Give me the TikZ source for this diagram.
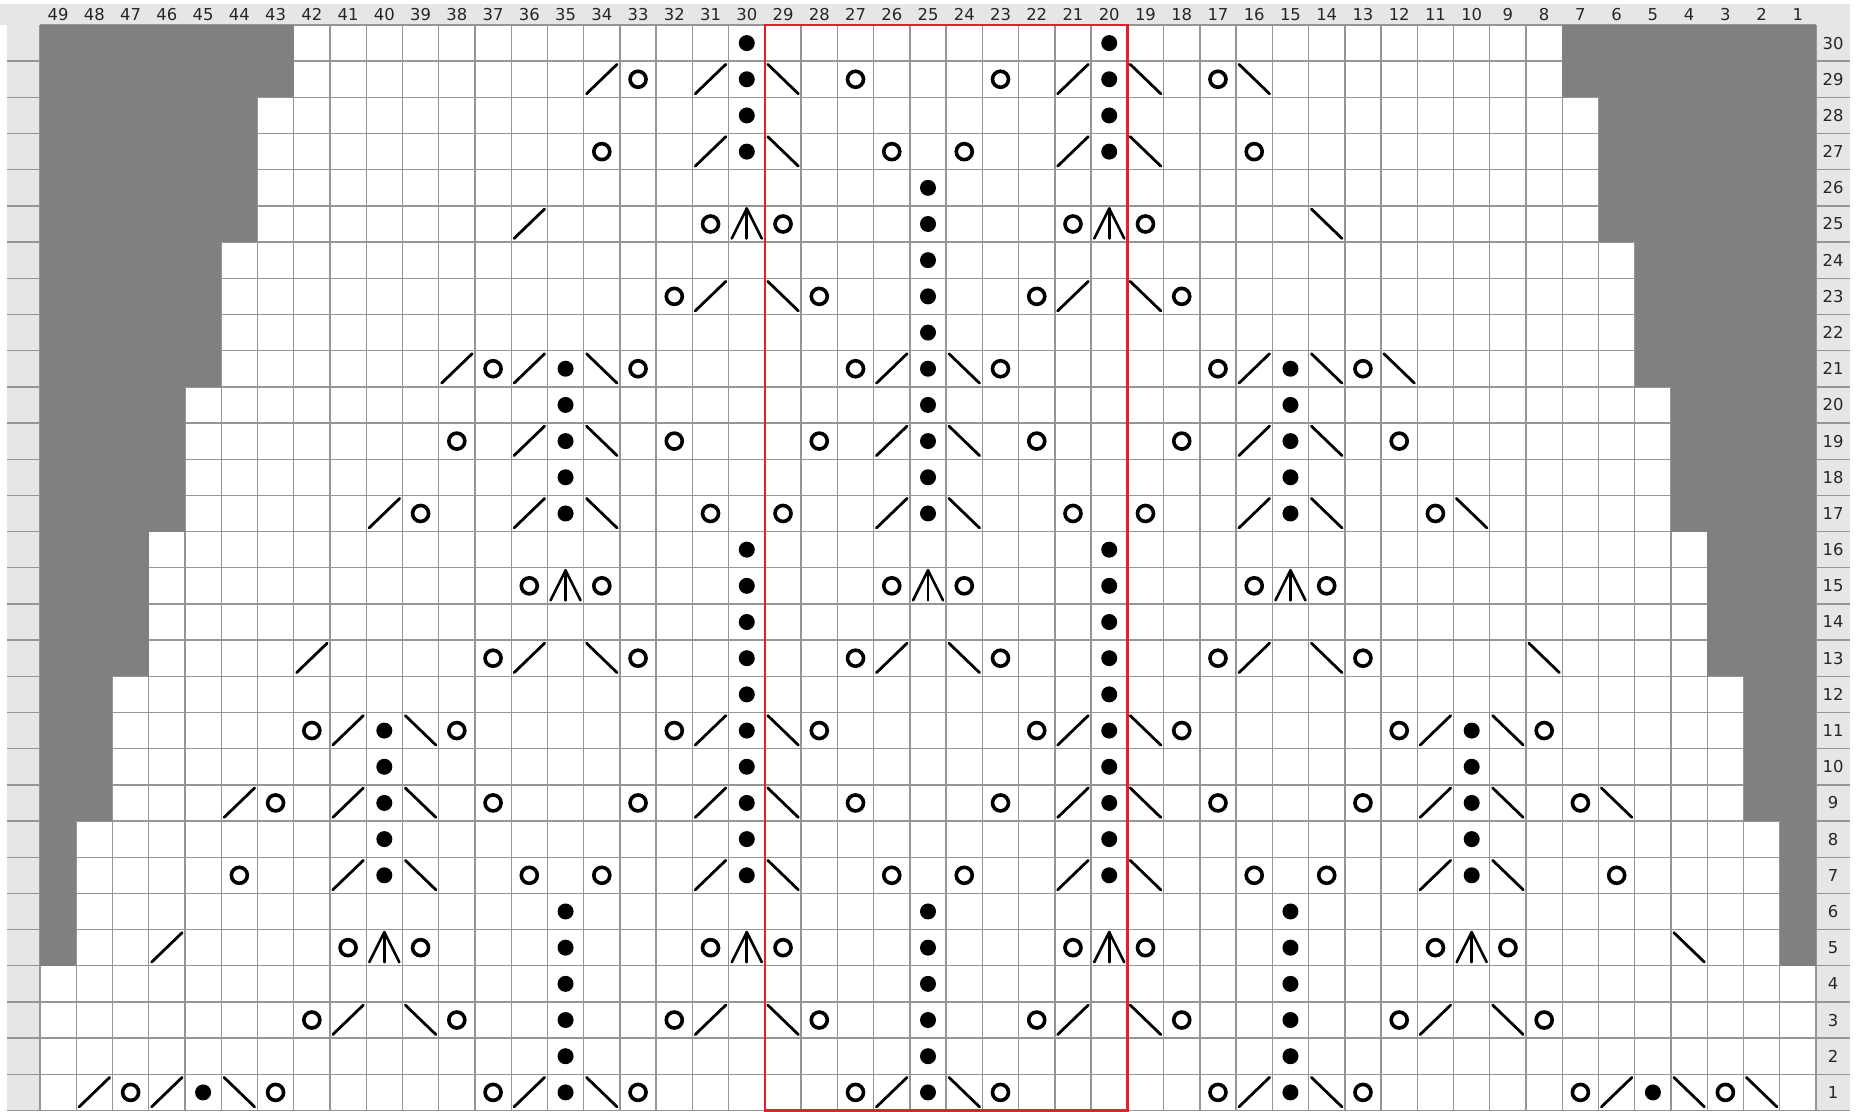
\documentclass[tikz,border=0pt]{standalone}
\usepackage{fontspec}
\setmainfont{DejaVu Sans}
\definecolor{gridgray}{HTML}{959595}
\definecolor{lightbg}{HTML}{E6E6E6}
\definecolor{darkcell}{HTML}{808080}
\definecolor{boxred}{HTML}{E41E2B}
\begin{document}
\begin{tikzpicture}[x=0.5pt,y=-0.5pt,
  gridline/.style={draw=gridgray,line width=0.68pt},
  darkfill/.style={fill=darkcell},
  symline/.style={draw=black,line width=1.4pt,line cap=round},
  cddline/.style={draw=black,line width=1.3pt,line cap=round,line join=round},
  ring/.style={draw=black,line width=1.8pt},
  purl/.style={fill=black},
  redbox/.style={draw=boxred,line width=1.4pt},
  lbl/.style={font=\fontsize{8.2}{9}\selectfont,text=black!85,inner sep=0pt}]
\def\W{36.245}
\def\H{36.183}
\useasboundingbox (0,0) rectangle (1858,1112);
\fill[white] (0,0) rectangle (1858,1112);
% label bands
\fill[lightbg] (0,4) rectangle (1850,25);
\fill[lightbg] (7,25) rectangle (40,1110.5);
\fill[lightbg] (1816,25) rectangle (1850,1110.5);
% grid
\foreach \i in {0,...,49} \draw[gridline] ({40+\i*\W},25) -- ({40+\i*\W},1110.5);
\draw[gridline] (40,25) -- (1816,25);
\foreach \j in {1,...,30} \draw[gridline] (7,{25+\j*\H}) -- (1850,{25+\j*\H});
% no-stitch cells
\foreach \rt/\rb/\g in {30/29/7, 28/25/6, 24/21/5, 20/17/4, 16/13/3, 12/9/2, 8/5/1} {
  \fill[darkfill] (40,{25+(30-\rt)*\H}) rectangle ({40+\g*\W},{25+(31-\rb)*\H});
  \fill[darkfill] ({1816-\g*\W},{25+(30-\rt)*\H}) rectangle (1816,{25+(31-\rb)*\H});
}
% k2tog (/)
\foreach \c/\r in {34/29,31/29,21/29, 31/27,21/27, 36/25, 31/23,21/23,
  38/21,36/21,26/21,16/21, 36/19,26/19,16/19, 40/17,36/17,26/17,16/17,
  42/13,36/13,26/13,16/13, 41/11,31/11,21/11,11/11, 44/9,41/9,31/9,21/9,11/9,
  41/7,31/7,21/7,11/7, 46/5, 41/3,31/3,21/3,11/3, 48/1,46/1,36/1,26/1,16/1,6/1}
  \draw[symline] ({40+(49.5-\c)*\W-15.3},{25+(30.5-\r)*\H+14.5}) -- ++(30.6,-29.5);
% ssk (\)
\foreach \c/\r in {29/29,19/29,16/29, 29/27,19/27, 14/25, 29/23,19/23,
  34/21,24/21,14/21,12/21, 34/19,24/19,14/19, 34/17,24/17,14/17,10/17,
  34/13,24/13,14/13,8/13, 39/11,29/11,19/11,9/11, 39/9,29/9,19/9,9/9,6/9,
  39/7,29/7,19/7,9/7, 4/5, 39/3,29/3,19/3,9/3, 44/1,34/1,24/1,14/1,4/1,2/1}
  \draw[symline] ({40+(49.5-\c)*\W-15.3},{25+(30.5-\r)*\H-15}) -- ++(30.6,29.5);
% yarn over (o)
\foreach \c/\r in {33/29,27/29,23/29,17/29, 34/27,26/27,24/27,16/27,
  31/25,29/25,21/25,19/25, 32/23,28/23,22/23,18/23,
  37/21,33/21,27/21,23/21,17/21,13/21, 38/19,32/19,28/19,22/19,18/19,12/19,
  39/17,31/17,29/17,21/17,19/17,11/17, 36/15,34/15,26/15,24/15,16/15,14/15,
  37/13,33/13,27/13,23/13,17/13,13/13, 42/11,38/11,32/11,28/11,22/11,18/11,12/11,8/11,
  43/9,37/9,33/9,27/9,23/9,17/9,13/9,7/9, 44/7,36/7,34/7,26/7,24/7,16/7,14/7,6/7,
  41/5,39/5,31/5,29/5,21/5,19/5,11/5,9/5, 42/3,38/3,32/3,28/3,22/3,18/3,12/3,8/3,
  47/1,43/1,37/1,33/1,27/1,23/1,17/1,13/1,7/1,3/1}
  \draw[ring] ({40+(49.5-\c)*\W},{25+(30.5-\r)*\H}) circle[radius=4pt];
% purl dots
\foreach \c/\r in {30/30,20/30,30/29,20/29,30/28,20/28,30/27,20/27,
  25/26,25/25,25/24,25/23,25/22,
  35/21,25/21,15/21,35/20,25/20,15/20,35/19,25/19,15/19,35/18,25/18,15/18,35/17,25/17,15/17,
  30/16,20/16,30/15,20/15,30/14,20/14,30/13,20/13,30/12,20/12,
  40/11,30/11,20/11,10/11,40/10,30/10,20/10,10/10,40/9,30/9,20/9,10/9,
  40/8,30/8,20/8,10/8,40/7,30/7,20/7,10/7,
  35/6,25/6,15/6,35/5,25/5,15/5,35/4,25/4,15/4,35/3,25/3,15/3,35/2,25/2,15/2,
  45/1,35/1,25/1,15/1,5/1}
  \fill[purl] ({40+(49.5-\c)*\W},{25+(30.5-\r)*\H}) circle[radius=4pt];
% central double decrease
\foreach \c/\r in {30/25,20/25, 35/15,25/15,15/15, 40/5,30/5,20/5,10/5} {
  \draw[cddline] ({40+(49.5-\c)*\W-15},{25+(30.5-\r)*\H+14.5}) -- ({40+(49.5-\c)*\W},{25+(30.5-\r)*\H-15.5}) -- ({40+(49.5-\c)*\W+15},{25+(30.5-\r)*\H+14.5});
  \draw[cddline] ({40+(49.5-\c)*\W},{25+(30.5-\r)*\H-15.5}) -- ({40+(49.5-\c)*\W},{25+(30.5-\r)*\H+14.5});
}
% repeat box
\draw[redbox] ({40+20*\W},25) rectangle ({40+30*\W},1110.5);
% column numbers
\foreach \i in {0,...,48} {
  \pgfmathtruncatemacro\n{49-\i}
  \node[lbl] (c\n) at ({40+(\i+0.5)*\W},14.5) {\n};
}
% row numbers
\foreach \r in {1,...,30}
  \node[lbl] (r\r) at (1833,{25+(30.5-\r)*\H}) {\r};
\end{tikzpicture}
\end{document}
